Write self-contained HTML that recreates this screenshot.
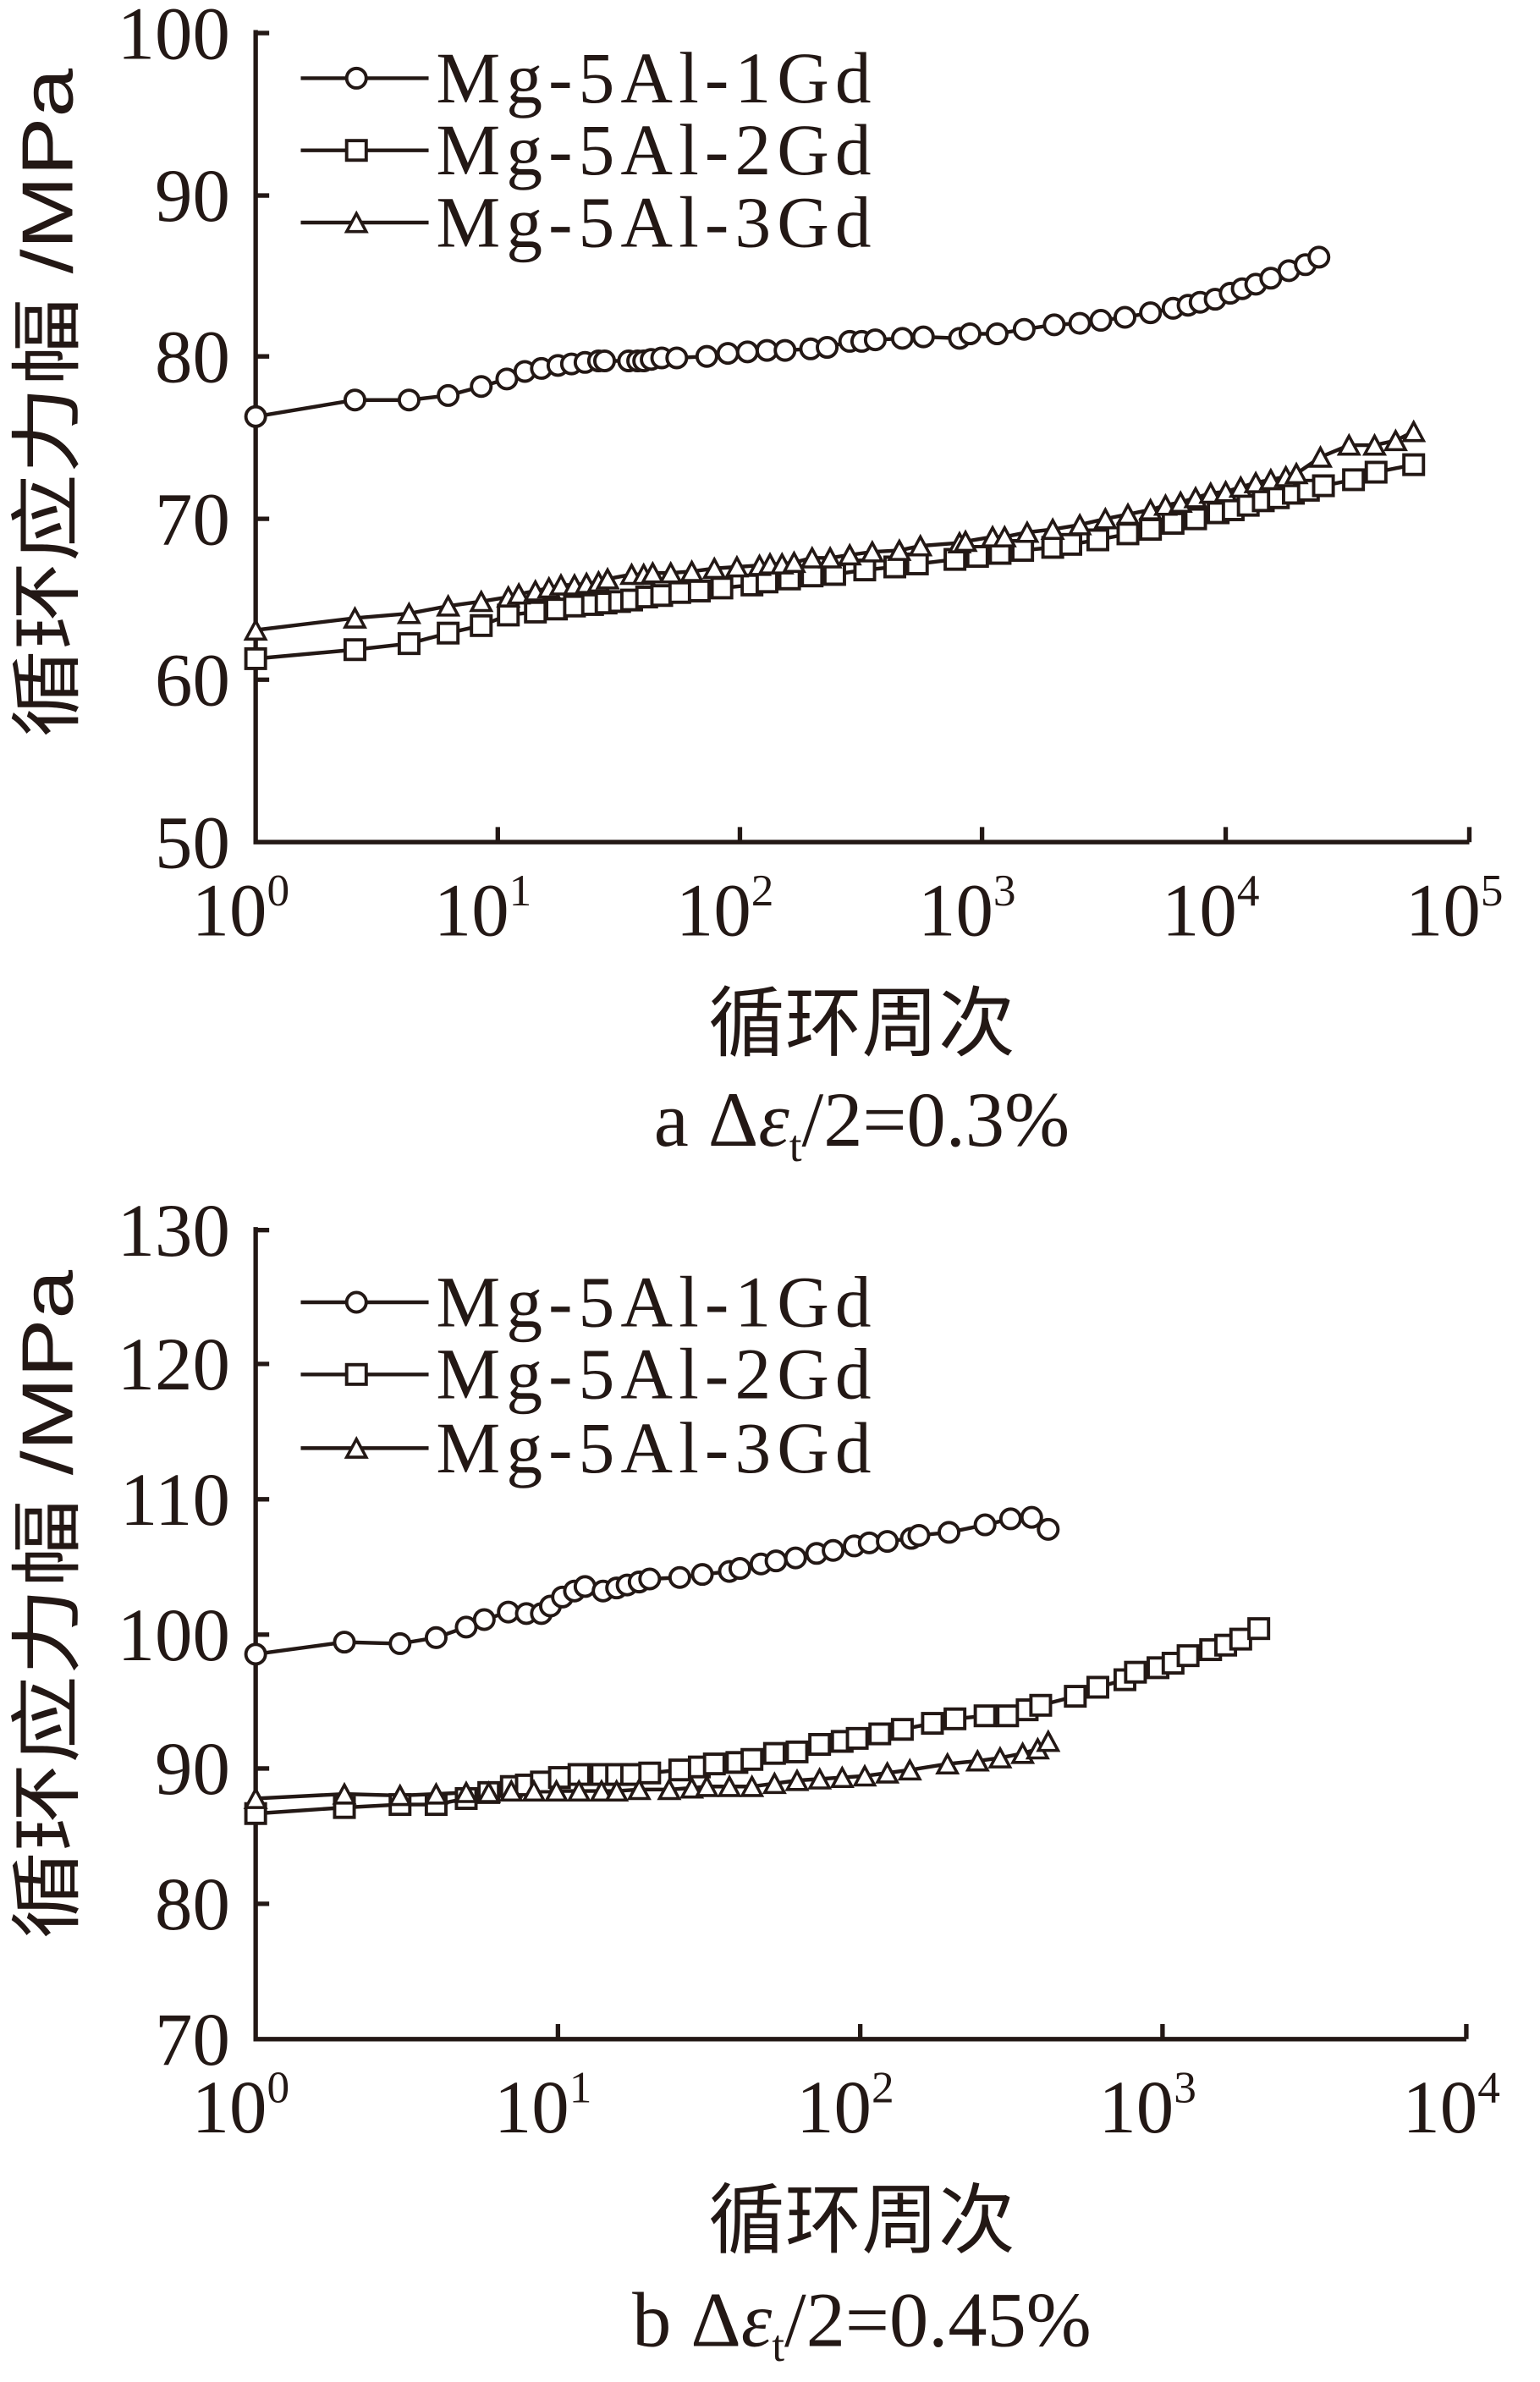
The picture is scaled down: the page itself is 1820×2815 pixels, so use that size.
<!DOCTYPE html>
<html><head><meta charset="utf-8"><style>
html,body{margin:0;padding:0;background:#fff;}
svg{display:block;}
text{fill:#231815;}
.s{font-family:"Liberation Serif","Noto Serif CJK SC",serif;}
.c{font-family:"Liberation Sans","Noto Sans CJK SC",sans-serif;}
</style></head><body>
<svg width="1820" height="2815" viewBox="0 0 1024 1584" preserveAspectRatio="none" xmlns="http://www.w3.org/2000/svg">
<defs>
<circle id="o" r="6.5" fill="#fff" stroke="#231815" stroke-width="2.2"/>
<rect id="q" x="-6.5" y="-6.5" width="13" height="13" fill="#fff" stroke="#231815" stroke-width="2.2"/>
<path id="t" d="M0,-7 L6.5,5 L-6.5,5 Z" fill="#fff" stroke="#231815" stroke-width="2"/>
</defs>
<g stroke="#231815" stroke-width="3" fill="none">
<path d="M170,20 V560 H977"/>
<path d="M170,22 h9 M170,130 h9 M170,237 h9 M170,345 h9 M170,452 h9"/>
<path d="M331,560 v-10 M492,560 v-10 M653,560 v-10 M815,560 v-10 M977,560 v-10"/>
<path d="M170,816 V1356 H975"/>
<path d="M170,818 h9 M170,907 h9 M170,997 h9 M170,1087 h9 M170,1176 h9 M170,1266 h9"/>
<path d="M371,1356 v-10 M572,1356 v-10 M773,1356 v-10 M975,1356 v-10"/>
</g>
<g class="s" font-size="50" text-anchor="end">
<text x="153" y="39">100</text><text x="153" y="147">90</text><text x="153" y="254">80</text><text x="153" y="362">70</text><text x="153" y="469">60</text><text x="153" y="577">50</text>
<text x="153" y="835">130</text><text x="153" y="924">120</text><text x="153" y="1014">110</text><text x="153" y="1104">100</text><text x="153" y="1193">90</text><text x="153" y="1283">80</text><text x="153" y="1373">70</text>
</g>
<g class="s" font-size="50" text-anchor="middle">
<text x="160" y="622">10<tspan font-size="30" dy="-20">0</tspan></text>
<text x="321" y="622">10<tspan font-size="30" dy="-20">1</tspan></text>
<text x="482" y="622">10<tspan font-size="30" dy="-20">2</tspan></text>
<text x="643" y="622">10<tspan font-size="30" dy="-20">3</tspan></text>
<text x="805" y="622">10<tspan font-size="30" dy="-20">4</tspan></text>
<text x="967" y="622">10<tspan font-size="30" dy="-20">5</tspan></text>
<text x="160" y="1418">10<tspan font-size="30" dy="-20">0</tspan></text>
<text x="361" y="1418">10<tspan font-size="30" dy="-20">1</tspan></text>
<text x="562" y="1418">10<tspan font-size="30" dy="-20">2</tspan></text>
<text x="763" y="1418">10<tspan font-size="30" dy="-20">3</tspan></text>
<text x="965" y="1418">10<tspan font-size="30" dy="-20">4</tspan></text>
</g>
<text class="c" font-size="48" transform="translate(48,268) rotate(-90)" text-anchor="middle" textLength="445" lengthAdjust="spacingAndGlyphs">循环应力幅 /MPa</text>
<text class="c" font-size="48" transform="translate(48,1067) rotate(-90)" text-anchor="middle" textLength="445" lengthAdjust="spacingAndGlyphs">循环应力幅 /MPa</text>
<text class="c" font-size="51" x="573" y="698" text-anchor="middle">循环周次</text>
<text class="c" font-size="51" x="573" y="1494" text-anchor="middle">循环周次</text>
<text class="s" font-size="52" x="573" y="762" text-anchor="middle">a  Δ<tspan font-style="italic">ε</tspan><tspan font-size="30" dy="10">t</tspan><tspan dy="-10">/2=0.3%</tspan></text>
<text class="s" font-size="52" x="573" y="1560" text-anchor="middle">b  Δ<tspan font-style="italic">ε</tspan><tspan font-size="30" dy="10">t</tspan><tspan dy="-10">/2=0.45%</tspan></text>
<g stroke="#231815" stroke-width="2.5">
<path d="M200,52 H285 M200,100 H285 M200,148 H285 M200,866 H285 M200,914 H285 M200,963 H285"/>
</g>
<use href="#o" x="237" y="52"/><use href="#q" x="237" y="100"/><use href="#t" x="237" y="149"/>
<use href="#o" x="237" y="866"/><use href="#q" x="237" y="914"/><use href="#t" x="237" y="964"/>
<g class="s" font-size="48" letter-spacing="4">
<text x="290" y="68">Mg-5Al-1Gd</text>
<text x="290" y="116">Mg-5Al-2Gd</text>
<text x="290" y="164">Mg-5Al-3Gd</text>
<text x="290" y="882">Mg-5Al-1Gd</text>
<text x="290" y="930">Mg-5Al-2Gd</text>
<text x="290" y="979">Mg-5Al-3Gd</text>
</g>
<g fill="none" stroke="#231815" stroke-width="2.5">
<polyline points="170,277 236,266 272,266 298,263 320,257 337,252 349,247 360,245 371,243 380,242 389,241 398,240 402,240 418,240 424,240 428,240 433,239 440,238 450,238 470,237 484,235 497,234 510,233 522,233 539,232 550,231 565,227 573,227 582,226 600,225 614,224 638,225 645,222 663,222 681,219 701,216 718,215 732,213 748,211 765,208 780,205 790,203 798,201 808,199 818,195 826,192 835,189 845,185 857,180 868,176 877,171"/>
<polyline points="170,438 236,432 272,428 298,421 320,416 338,409 356,407 370,405 382,403 394,402 403,401 412,400 420,399 430,397 440,396 452,394 465,393 480,391 500,389 510,387 525,385 540,383 555,382 575,379 595,377 610,375 635,372 650,370 665,368 680,366 700,364 712,362 730,359 750,355 765,352 780,348 795,345 810,341 820,339 830,336 840,333 850,331 860,328 870,326 880,323 900,319 915,314 940,309"/>
<polyline points="170,419 236,411 272,408 298,403 320,400 338,397 345,395 356,393 365,391 373,389 382,389 390,388 398,387 404,385 420,382 428,382 434,381 446,381 460,380 475,378 490,377 505,376 512,375 520,375 528,374 540,371 552,371 565,369 580,367 598,366 612,363 638,361 642,360 660,357 668,357 683,354 700,352 718,349 735,345 750,342 765,339 775,336 785,334 795,331 805,328 815,327 825,324 835,321 845,319 855,317 862,315 878,304 897,296 914,296 928,293 940,287"/>
<polyline points="170,1100 229,1092 266,1093 290,1089 310,1082 322,1077 338,1072 350,1073 360,1073 366,1068 374,1062 382,1058 389,1055 401,1058 410,1056 417,1054 425,1052 432,1050 452,1049 467,1047 485,1045 492,1043 506,1040 516,1038 529,1036 543,1033 554,1031 568,1028 578,1026 590,1025 606,1023 611,1021 631,1019 655,1014 672,1010 686,1009 697,1017"/>
<polyline points="170,1206 229,1202 266,1200 290,1200 310,1196 325,1192 340,1188 350,1187 360,1185 372,1182 385,1180 400,1180 410,1180 420,1180 432,1179 452,1177 465,1175 475,1173 490,1172 500,1170 515,1166 530,1165 545,1160 560,1158 570,1156 585,1153 600,1150 620,1146 635,1143 655,1141 670,1141 683,1137 692,1134 715,1128 730,1122 748,1117 755,1112 770,1109 780,1106 790,1101 805,1097 815,1094 825,1090 837,1083"/>
<polyline points="170,1196 229,1193 266,1194 290,1193 310,1192 325,1192 340,1191 355,1191 370,1191 385,1191 400,1191 410,1191 425,1190 445,1190 460,1189 470,1188 485,1188 500,1188 515,1186 530,1184 545,1183 560,1182 575,1181 590,1179 605,1177 630,1173 650,1171 665,1169 680,1166 690,1163 697,1158"/>
</g>
<g id="markers"></g>
<script>
(function(){
var ns="http://www.w3.org/2000/svg";
var pl=document.querySelectorAll("polyline");
var ids=["o","q","t","o","q","t"];
var g=document.getElementById("markers");
pl.forEach(function(p,i){
 p.getAttribute("points").trim().split(/\s+/).forEach(function(s){
  var a=s.split(",");
  var u=document.createElementNS(ns,"use");
  u.setAttribute("href","#"+ids[i]);
  u.setAttribute("x",a[0]);u.setAttribute("y",(ids[i]=="t"?(+a[1]+1):a[1]));
  g.appendChild(u);
 });
});
})();
</script>
</svg>
</body></html>
